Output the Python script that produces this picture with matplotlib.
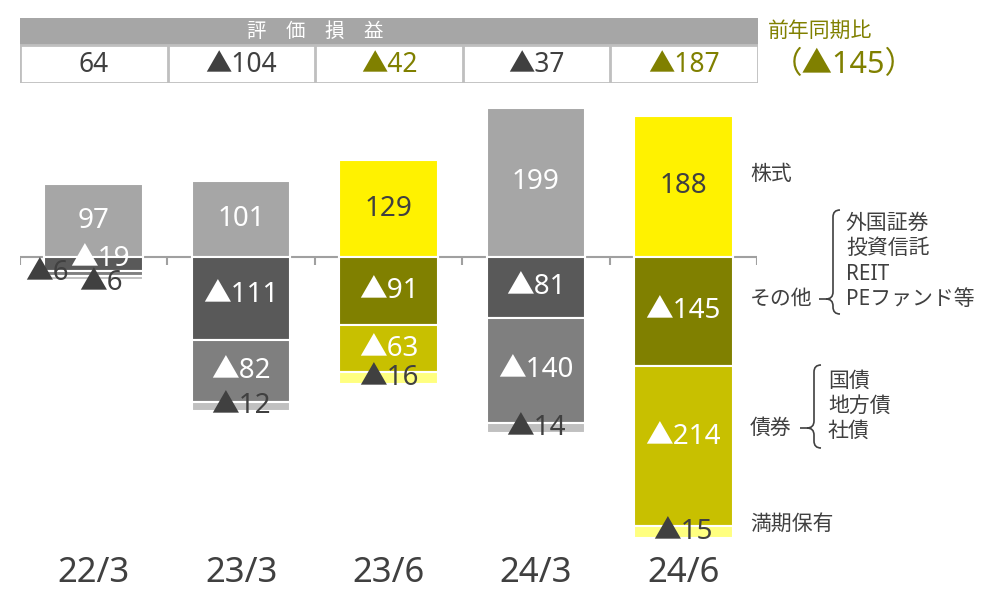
import matplotlib
matplotlib.use("Agg")
import matplotlib.pyplot as plt
from matplotlib.patches import Rectangle, PathPatch
from matplotlib.path import Path

plt.rcParams["font.family"] = ["Noto Sans", "Noto Sans CJK JP", "DejaVu Sans"]

# data
periods = ["22/3", "23/3", "23/6", "24/3", "24/6"]
stocks = [97, 101, 129, 199, 188]
others = [-19, -111, -91, -81, -145]
bonds = [-6, -82, -63, -140, -214]
htm = [-6, -12, -16, -14, -15]
valuation = [64, -104, -42, -37, -187]
yoy = -145
highlight = [False, False, True, False, True]

DARK = "#404040"
OLIVE = "#808000"
gray_cols = ["#a6a6a6", "#595959", "#7f7f7f", "#c0c0c0"]
yellow_cols = ["#fff200", "#808000", "#c8c000", "#ffff80"]

W, H = 993, 589
fig = plt.figure(figsize=(W / 100, H / 100), dpi=100)


def px_axes(x0, y0, x1, y1):
    return fig.add_axes([x0 / W, 1 - y1 / H, (x1 - x0) / W, (y1 - y0) / H])


def fmt(v):
    return str(v) if v >= 0 else "▲" + str(-v)


# ---- bars ----
ax = px_axes(20, 100, 757, 550)
scale = 0.75
ax.set_xlim(-0.5, 4.5)
ax.set_ylim(-(550 - 257) / scale, (257 - 100) / scale)
ax.axis("off")

ax.hlines(0, -0.5, 4.5, color="#a0a0a0", lw=1.5, zorder=1)
ax.vlines([i - 0.5 for i in range(6)], -8 / scale, 0, color="#a0a0a0", lw=1.5, zorder=1)

# per-label nudges (pixels) for crowded labels
nudge = {(0, 1): (6, 5), (0, 2): (-47, 0), (0, 3): (7, -5), (4, 2): (0, 9),
         (1, 1): (0, 4)}

for i in range(len(periods)):
    cols = yellow_cols if highlight[i] else gray_cols
    ax.bar(i, stocks[i], width=0.67, color=cols[0], edgecolor="white", lw=1.5, zorder=2)
    c = DARK if highlight[i] else "white"
    ax.annotate(fmt(stocks[i]), (i, stocks[i] / 2), ha="center", va="center",
                fontsize=20, color=c, zorder=5)
    bottom = 0
    for k, series in enumerate([others, bonds, htm], start=1):
        v = series[i]
        ax.bar(i, v, bottom=bottom, width=0.67, color=cols[k], edgecolor="white",
               lw=1.5, zorder=2)
        c = DARK if k == 3 else "white"
        if i == 0 and k == 2:
            c = DARK
        dx, dy = nudge.get((i, k), (0, 0))
        ax.annotate(fmt(v), (i, bottom + v / 2), xytext=(dx, dy),
                    textcoords="offset pixels", ha="center", va="center",
                    fontsize=20, color=c, zorder=5)
        bottom += v

for i, p in enumerate(periods):
    ax.annotate(p, (i, 0), xycoords=("data", "axes fraction"), xytext=(0, -23),
                textcoords="offset pixels", ha="center", va="center",
                fontsize=25, color=DARK)

# ---- table ----
tb = px_axes(20, 18, 758, 83)
tb.set_xlim(-0.5, 4.5)
tb.set_ylim(65, 0)
tb.axis("off")
tb.add_patch(Rectangle((-0.5, 0), 5, 27, facecolor="#a6a6a6", edgecolor="none"))
tb.add_patch(Rectangle((-0.5, 27), 5, 38, facecolor="white", edgecolor="#bfbfbf", lw=2))
tb.vlines([0.5, 1.5, 2.5, 3.5], 27, 65, color="#bfbfbf", lw=2)
tb.text(1.5, 14, "評　価　損　益", ha="center", va="center", fontsize=14, color="white")
for i, v in enumerate(valuation):
    tb.text(i, 47, fmt(v), ha="center", va="center", fontsize=19,
            color=OLIVE if highlight[i] else DARK)

# ---- right-side notes ----
ov = px_axes(0, 0, W, H)
ov.set_xlim(0, W)
ov.set_ylim(H, 0)
ov.axis("off")
ov.text(768, 31, "前年同期比", ha="left", va="center", fontsize=15, color=OLIVE)
ov.text(772, 65, "（" + fmt(yoy) + "）", ha="left", va="center", fontsize=22, color=OLIVE)

ov.text(750, 174, "株式", ha="left", va="center", fontsize=15, color=DARK)
ov.text(750, 299, "その他", ha="left", va="center", fontsize=15, color=DARK)
ov.text(750, 428, "債券", ha="left", va="center", fontsize=15, color=DARK)
ov.text(750, 524, "満期保有", ha="left", va="center", fontsize=15, color=DARK)

for j, t in enumerate(["外国証券", "投資信託", "REIT", "PEファンド等"]):
    ov.text(846, 223 + j * 25.5, t, ha="left", va="center", fontsize=15, color=DARK)
for j, t in enumerate(["国債", "地方債", "社債"]):
    ov.text(828, 381 + j * 25, t, ha="left", va="center", fontsize=15, color=DARK)


def brace(x, top, tip, bot, curl=7):
    verts = [(x + curl, top), (x, top), (x, top + curl),
             (x, tip - curl), (x, tip), (x - curl, tip),
             (x - curl - 7, tip), (x - curl, tip),
             (x, tip), (x, tip + curl),
             (x, bot - curl), (x, bot), (x + curl, bot)]
    codes = [Path.MOVETO, Path.CURVE3, Path.CURVE3,
             Path.LINETO, Path.CURVE3, Path.CURVE3,
             Path.LINETO, Path.MOVETO,
             Path.CURVE3, Path.CURVE3,
             Path.LINETO, Path.CURVE3, Path.CURVE3]
    ov.add_patch(PathPatch(Path(verts, codes), facecolor="none", edgecolor=DARK, lw=1.2))


brace(833, 210, 299, 314)
brace(814, 365, 428, 448)

fig.savefig("out.png", dpi=100)
